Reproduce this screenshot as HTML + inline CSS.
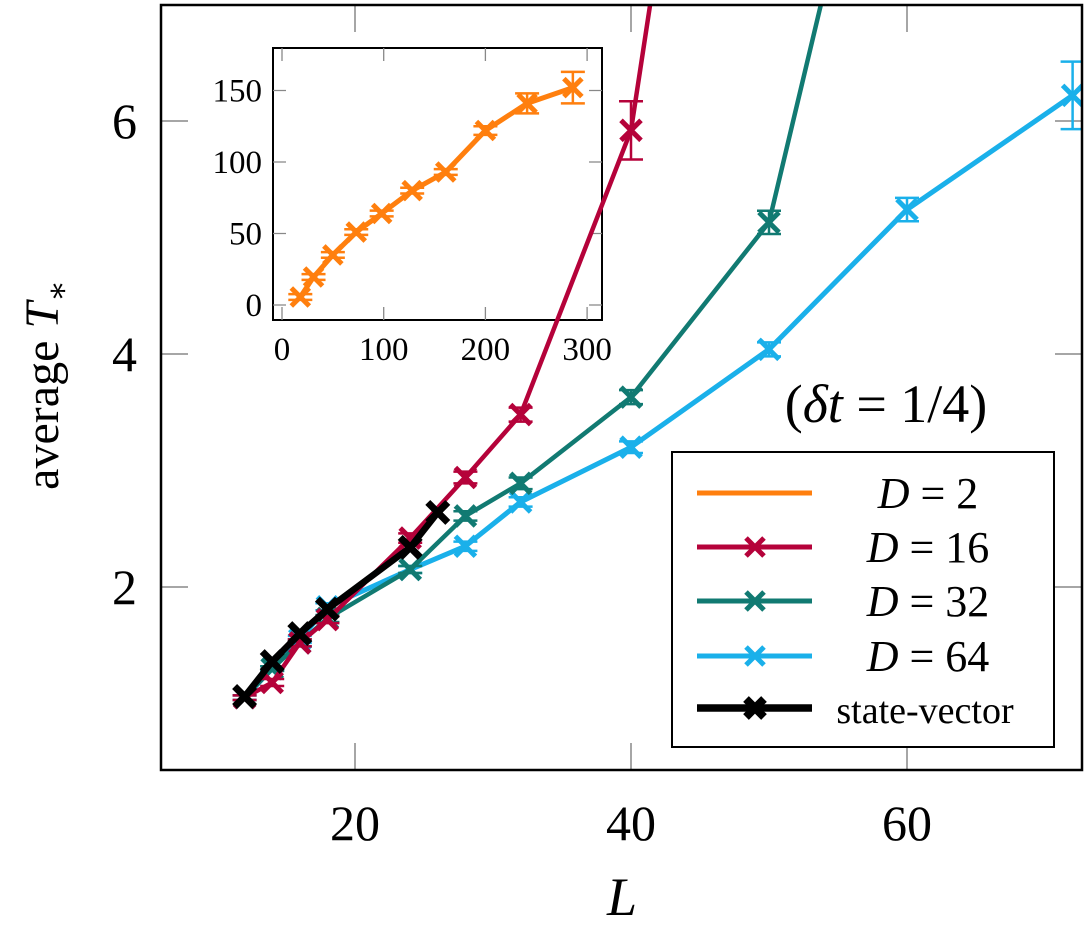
<!DOCTYPE html>
<html><head><meta charset="utf-8"><style>
body{margin:0;background:#fff}
svg text{font-family:"Liberation Serif","DejaVu Serif",serif;fill:#000}
</style></head><body>
<svg id="chart" width="1092" height="924" viewBox="0 0 1092 924" xmlns="http://www.w3.org/2000/svg">
<defs><clipPath id="mainclip"><rect x="161" y="5" width="921" height="765"/></clipPath></defs>
<g id="inset"></g>
<g id="main"></g>
<rect x="161" y="5" width="921" height="765" fill="none" stroke="#000" stroke-width="2.5"/>
<text x="622" y="915" font-size="54" font-style="italic" text-anchor="middle">L</text>
<text transform="translate(58,385) rotate(-90)" font-size="48" text-anchor="middle">average <tspan font-style="italic">T</tspan><tspan font-size="32" dy="10">∗</tspan></text>
<text x="886" y="422" font-size="54" text-anchor="middle">(<tspan font-style="italic">δt</tspan> = 1/4)</text>
<g>
<rect x="672" y="452" width="382" height="295" fill="#fff" stroke="#000" stroke-width="2"/>
</g>
<g id="legend"></g>
</svg>
<script>
const mainCategoriesL=[12,14,16,18,24,28,32,40,50];
const d16Values=[1.05,1.18,1.52,1.72,2.42,2.94,3.48,5.92,13.7];
const d16Err=[0.02,0.03,0.03,0.03,0.04,0.05,0.06,0.25,0];
const d32L=[12,14,16,18,24,28,32,40,50,60];
const d32Values=[1.05,1.3,1.52,1.73,2.15,2.61,2.89,3.63,5.13,10.1];
const d32Err=[0.02,0.02,0.03,0.03,0.03,0.04,0.05,0.06,0.1,0];
const d64L=[12,14,16,18,24,28,32,40,50,60,72];
const d64Values=[1.05,1.3,1.55,1.83,2.15,2.35,2.73,3.2,4.04,5.24,6.22];
const d64Err=[0.02,0.02,0.03,0.03,0.03,0.04,0.04,0.05,0.06,0.1,0.29];
const svL=[12,14,16,18,24,26];
const svValues=[1.06,1.36,1.6,1.81,2.34,2.64];
const xTicks=[20,40,60];
const yTicks=[2,4,6];
const insetL=[18,31,50,73,98,128,161,200,241,286];
const insetValues=[5.6,19.6,35,51,64,80,93,122,141,152];
const insetErr=[2,2,2,2,2,2,2,3,7,11];
const insetXTicks=[0,100,200,300];
const insetYTicks=[0,50,100,150];

const NS='http://www.w3.org/2000/svg';
function mk(tag,attrs,parent){const e=document.createElementNS(NS,tag);for(const k in attrs)e.setAttribute(k,attrs[k]);parent.appendChild(e);return e;}
const X=v=>79+13.8*v, Y=v=>820-116.5*v;
const IX=v=>282+1.017*v, IY=v=>305-1.43*v;
const main=document.getElementById('main'), inset=document.getElementById('inset'), leg=document.getElementById('legend');

function cross(g,x,y,c,s,w){const p=mk('path',{d:`M${x-s},${y-s}L${x+s},${y+s}M${x-s},${y+s}L${x+s},${y-s}`,stroke:c,'stroke-width':w,fill:'none'},g);

}
function series(g,xs,ys,es,c,fx,fy,name,w,ms,mw){
 const sg=mk('g',{},g);
 
 
 const pl=mk('polyline',{points:xs.map((x,i)=>fx(x)+','+fy(ys[i])).join(' '),fill:'none',stroke:c,'stroke-width':w,'stroke-linejoin':'round'},sg);
 
 
 xs.forEach((x,i)=>{const px=fx(x),py=fy(ys[i]);
  if(es&&es[i]){const e=es[i],t=fy(ys[i]+e),b=fy(ys[i]-e);
   const eb=mk('path',{d:`M${px},${t}L${px},${b}M${px-12},${t}L${px+12},${t}M${px-12},${b}L${px+12},${b}`,stroke:c,'stroke-width':2.5,fill:'none'},sg);
   
   }
  cross(sg,px,py,c,ms,mw);});
}
// inset
mk('rect',{x:273,y:48,width:329,height:272,fill:'none',stroke:'#000','stroke-width':2},inset);
insetXTicks.forEach(t=>{const x=IX(t);
 mk('path',{d:`M${x},48L${x},61M${x},320L${x},307`,stroke:'#888','stroke-width':1.3},inset);
 const tx=mk('text',{x:x,y:360,'font-size':33,'text-anchor':'middle'},inset);tx.textContent=t;
 
 });
insetYTicks.forEach(t=>{const y=IY(t);
 mk('path',{d:`M273,${y}L286,${y}M602,${y}L589,${y}`,stroke:'#888','stroke-width':1.3},inset);
 const tx=mk('text',{x:262,y:y+11,'font-size':33,'text-anchor':'end'},inset);tx.textContent=t;
 
 });
series(inset,insetL,insetValues,insetErr,'#ff7f0e',IX,IY,'series-d2-inset',5,9,5);
// main ticks
xTicks.forEach(t=>{const x=X(t);
 mk('path',{d:`M${x},770L${x},743M${x},5L${x},32`,stroke:'#888','stroke-width':1.5},main);
 const tx=mk('text',{x:x,y:840,'font-size':50,'text-anchor':'middle'},main);tx.textContent=t;
 
 });
yTicks.forEach(t=>{const y=Y(t);
 mk('path',{d:`M161,${y}L188,${y}M1082,${y}L1055,${y}`,stroke:'#888','stroke-width':1.5},main);
 const tx=mk('text',{x:137,y:y+17,'font-size':50,'text-anchor':'end'},main);tx.textContent=t;
 
 });
const cg=mk('g',{'clip-path':'url(#mainclip)'},main);
series(cg,d64L,d64Values,d64Err,'#1ab0ea',X,Y,'series-d64',5,10,5);
series(cg,d32L,d32Values,d32Err,'#117a72',X,Y,'series-d32',4.5,10,5);
series(cg,mainCategoriesL,d16Values,d16Err,'#b5023a',X,Y,'series-d16',4.5,10,5);
series(cg,svL,svValues,null,'#000',X,Y,'series-state-vector',6.5,10,7);
// legend
const items=[['#ff7f0e','D = 2',false,4],['#b5023a','D = 16',true,4],['#117a72','D = 32',true,4],['#1ab0ea','D = 64',true,4],['#000','state-vector',true,6.5]];
const ly=[493,547,601,656,708];
items.forEach((it,i)=>{const g=mk('g',{},leg);
 
 
 mk('path',{d:`M697,${ly[i]}L812,${ly[i]}`,stroke:it[0],'stroke-width':it[3]+1},g);
 if(it[2])cross(g,755,ly[i],it[0],9,i==4?8:5);
 const tx=mk('text',{x:928,y:ly[i]+15,'font-size':44,'text-anchor':'middle'},g);
 if(i<4){const p=it[1].split(' = ');tx.innerHTML='<tspan font-style="italic">D</tspan> = '+p[1];}
 else{tx.textContent=it[1];tx.setAttribute('font-size','38');tx.setAttribute('x','925');}
});
</script>
</body></html>
